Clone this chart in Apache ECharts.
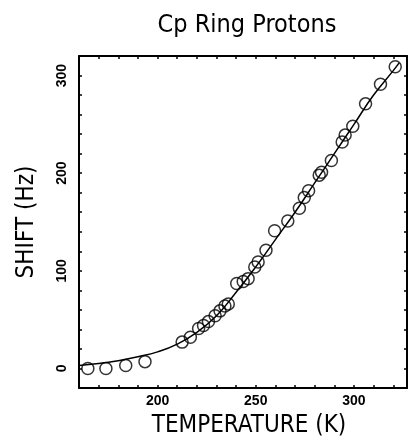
<!DOCTYPE html>
<html>
<head>
<meta charset="utf-8">
<script src="https://cdn.jsdelivr.net/npm/echarts@6/dist/echarts.min.js"></script>
<style>
  html, body { margin: 0; padding: 0; background: #fff; }
  #chart { width: 410px; height: 443px; }
</style>
</head>
<body>
<div id="chart"></div>
<script>
// Measured data (temperature K, shift Hz)
const tempK = [164.5, 173.7, 183.8, 193.6, 212.5, 216.7, 220.9, 223.4, 225.9, 229.3, 231.8, 234.3, 236.0, 240.3, 243.6, 246.1, 249.5, 251.2, 255.2, 259.6, 266.3, 272.2, 274.7, 276.9, 282.3, 283.5, 288.5, 294.0, 295.5, 299.4, 305.9, 313.5, 321.0];
const shiftHz = [0, 0, 3, 7, 27, 32, 41, 44, 48, 54, 59, 64, 66, 87, 89, 92, 104, 109, 121, 141, 151, 164, 175, 182, 198, 201, 213, 232, 239, 248, 271, 291, 309];

// Fitted curve
const fitT = [160, 170, 180, 190, 200, 210, 220, 230, 240, 250, 260, 270, 280, 290, 300, 310, 320, 323];
const fitS = [3, 5, 8, 12, 17, 25, 37, 54, 78, 104, 132, 160, 190, 220, 250, 280, 305, 313];

const xLabels = [200, 250, 300];
const yLabels = [0, 100, 200, 300];

const titleText = 'Cp Ring Protons';
const xName = 'TEMPERATURE (K)';
const yName = 'SHIFT (Hz)';

const FONT = "'Liberation Sans Narrow', 'DejaVu Sans Condensed', 'Liberation Sans', sans-serif";
const TICKFONT = "'Liberation Sans', sans-serif";

const points = tempK.map((t, i) => [t, shiftHz[i]]);
const fit = fitT.map((t, i) => [t, fitS[i]]);

const axisLineStyle = { show: true, onZero: false, lineStyle: { color: '#000', width: 2 } };
const tickStyle = { show: true, inside: true, length: 3, lineStyle: { color: '#000', width: 1.5 } };

const chart = echarts.init(document.getElementById('chart'), null, { renderer: 'canvas' });
chart.setOption({
  animation: false,
  backgroundColor: '#fff',
  title: {
    text: titleText,
    left: 242, top: 8,
    textAlign: 'center',
    textStyle: { fontFamily: FONT, fontWeight: 'normal', fontSize: 25, color: '#000' }
  },
  grid: { left: 79, right: 3, top: 56, bottom: 50 },
  xAxis: [
    {
      type: 'value', min: 160, max: 327, interval: 10, position: 'bottom',
      axisLine: axisLineStyle, axisTick: tickStyle, splitLine: { show: false },
      axisLabel: {
        margin: 6, color: '#000', fontFamily: TICKFONT, fontWeight: 'bold', fontSize: 14,
        showMinLabel: false, showMaxLabel: false,
        formatter: v => xLabels.includes(v) ? String(v) : ''
      },
      name: xName, nameLocation: 'middle', nameGap: 26,
      nameTextStyle: { fontFamily: FONT, fontSize: 24, color: '#000', padding: [0, 0, 0, 12] }
    },
    {
      type: 'value', min: 160, max: 327, interval: 10, position: 'top',
      axisLine: axisLineStyle, axisTick: tickStyle, splitLine: { show: false },
      axisLabel: { show: false }
    }
  ],
  yAxis: [
    {
      type: 'value', min: -20, max: 320, interval: 20, position: 'left',
      axisLine: axisLineStyle, axisTick: tickStyle, splitLine: { show: false },
      axisLabel: {
        rotate: 90, margin: 10, color: '#000', fontFamily: TICKFONT, fontWeight: 'bold', fontSize: 14,
        showMinLabel: false, showMaxLabel: false,
        formatter: v => yLabels.includes(v) ? String(v) : ''
      },
      name: yName, nameLocation: 'middle', nameGap: 40,
      nameTextStyle: { fontFamily: FONT, fontSize: 24, color: '#000' }
    },
    {
      type: 'value', min: -20, max: 320, interval: 20, position: 'right',
      axisLine: axisLineStyle, axisTick: tickStyle, splitLine: { show: false },
      axisLabel: { show: false }
    }
  ],
  series: [
    {
      type: 'line', data: fit, smooth: true, showSymbol: false,
      lineStyle: { color: '#000', width: 1.5 }, z: 2
    },
    {
      type: 'scatter', data: points, symbol: 'circle', symbolSize: 12,
      itemStyle: { color: 'rgba(0,0,0,0)', borderColor: '#000', borderWidth: 1.5 }, z: 3
    }
  ]
});
</script>
</body>
</html>
